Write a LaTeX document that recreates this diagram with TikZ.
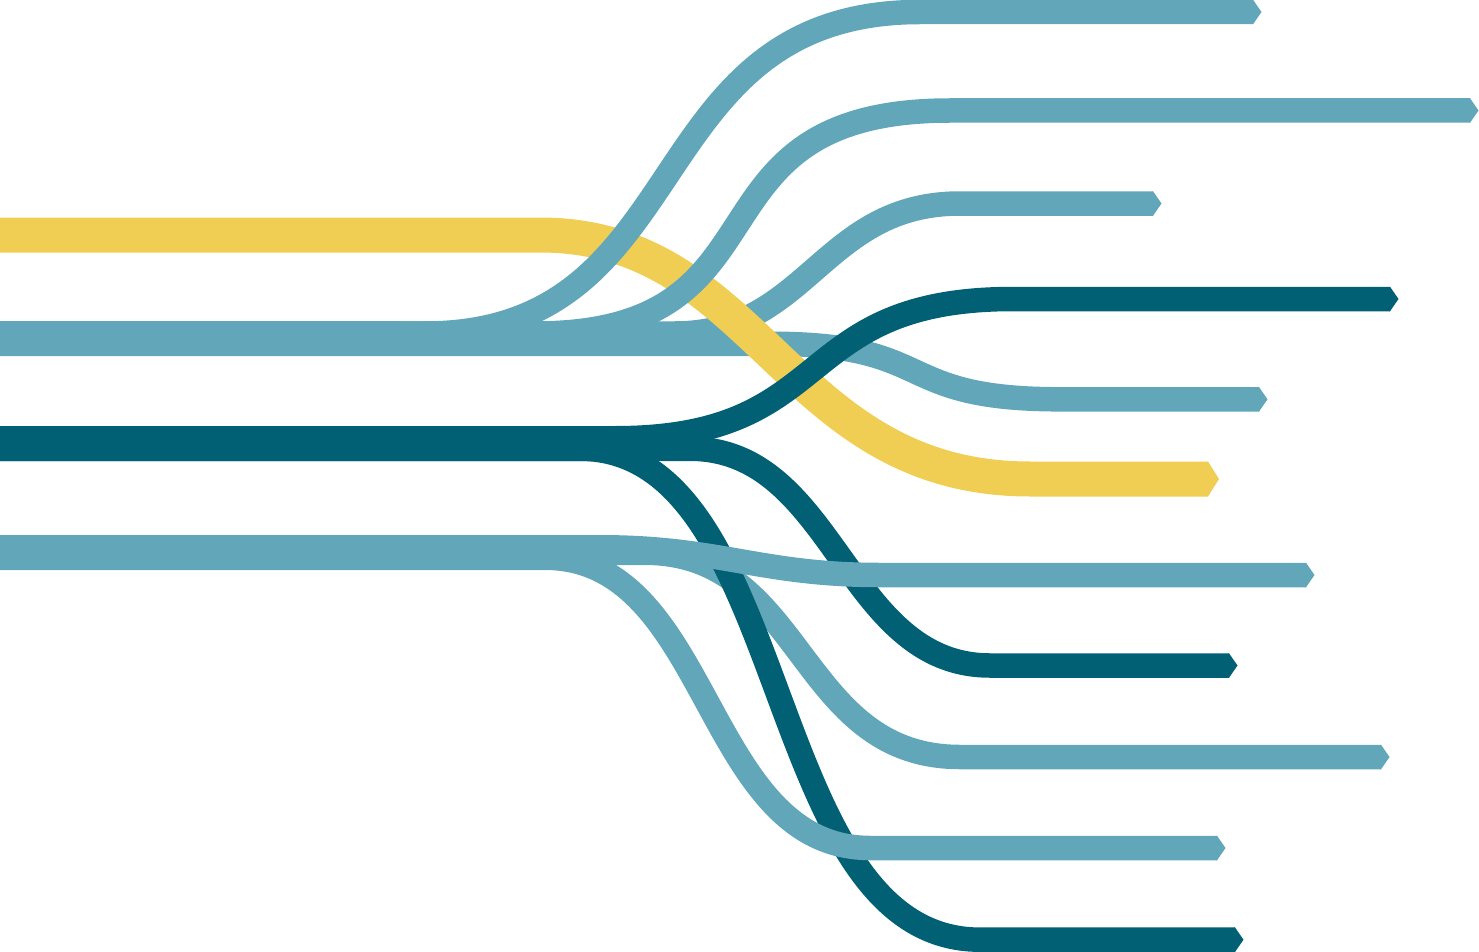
\documentclass[tikz,border=0pt]{standalone}
\definecolor{lteal}{RGB}{97,166,185}
\definecolor{dteal}{RGB}{2,96,117}
\definecolor{ygold}{RGB}{240,206,83}
\newcommand\tipat[5]{% x, y, half width, protrusion, colour
  \fill[#5] (#1-0.6,#2-#3) -- (#1,#2-#3) -- (#1+#4,#2) -- (#1,#2+#3) -- (#1-0.6,#2+#3) -- cycle;}
\begin{document}
\begin{tikzpicture}[x=1pt,y=-1pt,
  band/.style={line width=35pt, line cap=butt},
  br/.style={line width=24.5pt, line cap=butt},
  lt/.style={draw=lteal}, dk/.style={draw=dteal}, yl/.style={draw=ygold}]
\useasboundingbox (0,0) rectangle (1479,952);

% ---- upper light teal band, branches C and D (under the yellow)
\draw[band,lt] (0,338.5) -- (400,338.5);
\draw[br,lt] (0,333.5) -- (675,333.5) .. controls (808,333.5) and (822,203.5) .. (960,203.5) -- (1153,203.5);
\tipat{1153}{203.5}{12.25}{8.5}{lteal}
\draw[br,lt] (0,343.75) -- (770,343.75) .. controls (939,343.75) and (891,399.3) .. (1060,399.3) -- (1259,399.3);
\tipat{1259}{399.3}{12.25}{8.5}{lteal}

% ---- yellow
\draw[band,yl] (0,235) -- (540,235) .. controls (760,235) and (785,479) .. (1030,479) -- (1208,479);
\tipat{1208}{479}{17.5}{11}{ygold}

% ---- branches A and B (over the yellow)
\draw[br,lt] (0,333.5) -- (425,333.5) .. controls (700,333.5) and (635,12) .. (920,12) -- (1253,12);
\tipat{1253}{12}{12.25}{8.5}{lteal}
\draw[br,lt] (0,333.5) -- (535,333.5) .. controls (800,333.5) and (675,110.5) .. (950,110.5) -- (1470,110.5);
\tipat{1470}{110.5}{12.25}{8.5}{lteal}

% ---- lower light teal band, branch to 757 (under the dark teal)
\draw[band,lt] (0,552.5) -- (545,552.5);
\draw[br,lt] (0,552.75) -- (645,552.75) .. controls (805,552.75) and (797,757) .. (960,757) -- (1381,757);
\tipat{1381}{757}{12.25}{8.5}{lteal}

% ---- dark teal
\draw[band,dk] (0,443.5) -- (615,443.5);
\draw[br,dk] (0,438.25) -- (615,438.25) .. controls (840,438.25) and (788,299) .. (1013,299) -- (1390,299);
\tipat{1390}{299}{12.25}{8.5}{dteal}
\draw[br,dk] (0,448.75) -- (690,448.75) .. controls (835,448.75) and (845,665.5) .. (990,665.5) -- (1229,665.5);
\tipat{1229}{665.5}{12.25}{8.5}{dteal}
\draw[br,dk] (0,448.75) -- (580,448.75) .. controls (795,448.75) and (760,939.7) .. (980,939.7) -- (1235,939.7);
\tipat{1235}{939.7}{12.25}{8.5}{dteal}

% ---- lower light teal branches over the dark teal
\draw[br,lt] (0,557.75) -- (545,557.75) .. controls (712,557.75) and (703,848) .. (870,848) -- (1217,848);
\tipat{1217}{848}{12.25}{8.5}{lteal}
\draw[br,lt] (0,547.25) -- (600,547.25) .. controls (720,547.25) and (760,575) .. (880,575) -- (1306,575);
\tipat{1306}{575}{12.25}{8.5}{lteal}
\end{tikzpicture}
\end{document}
